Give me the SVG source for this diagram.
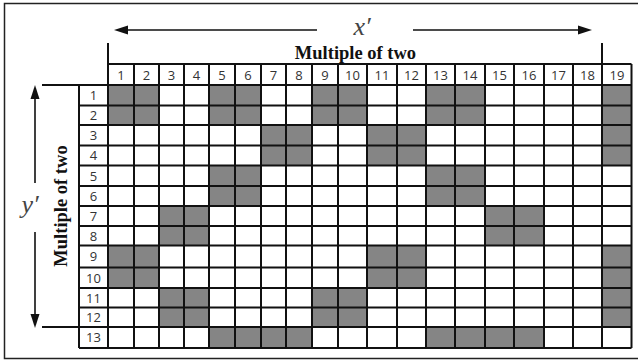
<svg xmlns="http://www.w3.org/2000/svg" width="638" height="360" viewBox="0 0 638 360">
<style>
.sh{fill:#858585}
.g{stroke:#111;stroke-width:2;fill:none}
.ar{stroke:#111;stroke-width:1.6;fill:none}
.ah{fill:#111}
.n{font-family:"Open Sans","Liberation Sans",sans-serif;font-size:13px;fill:#333;text-anchor:middle}
.t{font-family:"Liberation Serif","Times New Roman",serif;font-weight:bold;font-size:18.5px;fill:#111;text-anchor:middle}
.v{font-family:"Liberation Serif","Times New Roman",serif;font-style:italic;font-size:26px;fill:#444;text-anchor:middle}
</style>
<rect width="638" height="360" fill="#fff"/>
<path d="M640 3.5H4.5V358.5H640" fill="none" stroke="#222" stroke-width="1.5"/>
<g id="shaded">
<rect class="sh" x="108" y="85" width="51" height="40"/>
<rect class="sh" x="209" y="85" width="52" height="40"/>
<rect class="sh" x="312" y="85" width="55" height="40"/>
<rect class="sh" x="426" y="85" width="59" height="40"/>
<rect class="sh" x="602" y="85" width="29.5" height="80.5"/>
<rect class="sh" x="261" y="125" width="51" height="40.5"/>
<rect class="sh" x="367" y="125" width="59" height="40.5"/>
<rect class="sh" x="209" y="165.5" width="52" height="40.5"/>
<rect class="sh" x="426" y="165.5" width="59" height="40.5"/>
<rect class="sh" x="159" y="206" width="50" height="39.5"/>
<rect class="sh" x="485" y="206" width="59" height="39.5"/>
<rect class="sh" x="108" y="245.5" width="51" height="42.5"/>
<rect class="sh" x="367" y="245.5" width="59" height="42.5"/>
<rect class="sh" x="602" y="245.5" width="29.5" height="81.5"/>
<rect class="sh" x="159" y="288" width="50" height="39"/>
<rect class="sh" x="312" y="288" width="55" height="39"/>
<rect class="sh" x="209" y="327" width="103" height="21"/>
<rect class="sh" x="426" y="327" width="118" height="21"/>
</g>
<g id="grid" class="g">
<path d="M108 64H631.5M42 85H631.5M79 105.5H631.5M79 125H631.5M79 145.5H631.5M79 165.5H631.5M79 186H631.5M79 206H631.5M79 226H631.5M79 245.5H631.5M79 267.5H631.5M79 288H631.5M79 307.5H631.5M42 327H631.5M79 348H631.5"/>
<path d="M79 85V348M108 43V348M134 64V348M159 64V348M184 64V348M209 64V348M235 64V348M261 64V348M286 64V348M312 64V348M338 64V348M367 64V348M397 64V348M426 64V348M455 64V348M485 64V348M514 64V348M544 64V348M573 64V348M602 43V348M631.5 64V348"/>
</g>
<g id="col-labels" class="n">
<text x="121" y="79.5">1</text><text x="146.5" y="79.5">2</text><text x="171.5" y="79.5">3</text><text x="196.5" y="79.5">4</text><text x="222" y="79.5">5</text><text x="248" y="79.5">6</text><text x="273.5" y="79.5">7</text><text x="299" y="79.5">8</text><text x="325" y="79.5">9</text><text x="352.5" y="79.5">10</text><text x="382" y="79.5">11</text><text x="411.5" y="79.5">12</text><text x="440.5" y="79.5">13</text><text x="470" y="79.5">14</text><text x="499.5" y="79.5">15</text><text x="529" y="79.5">16</text><text x="558.5" y="79.5">17</text><text x="587.5" y="79.5">18</text><text x="617" y="79.5">19</text>
</g>
<g id="row-labels" class="n">
<text x="93.5" y="100">1</text><text x="93.5" y="120">2</text><text x="93.5" y="140">3</text><text x="93.5" y="160">4</text><text x="93.5" y="180.5">5</text><text x="93.5" y="200.5">6</text><text x="93.5" y="220.5">7</text><text x="93.5" y="240.5">8</text><text x="93.5" y="261">9</text><text x="93.5" y="282.5">10</text><text x="93.5" y="302.5">11</text><text x="93.5" y="322">12</text><text x="93.5" y="342">13</text>
</g>
<g id="titles">
<text class="t" x="355.5" y="59">Multiple of two</text>
<text class="t" transform="translate(66.5 206) rotate(-90)">Multiple of two</text>
<text class="v" x="362" y="35">x′</text>
<text class="v" x="30" y="213">y′</text>
</g>
<g id="connectors">
<path class="ar" d="M126 30H317M413 30H580M35 97V183M35 232V316"/>
<polygon class="ah" points="114,30 128,25.5 128,34.5"/>
<polygon class="ah" points="592,30 578,25.5 578,34.5"/>
<polygon class="ah" points="35,85 30.5,99 39.5,99"/>
<polygon class="ah" points="35,328 30.5,314 39.5,314"/>
</g>
</svg>
